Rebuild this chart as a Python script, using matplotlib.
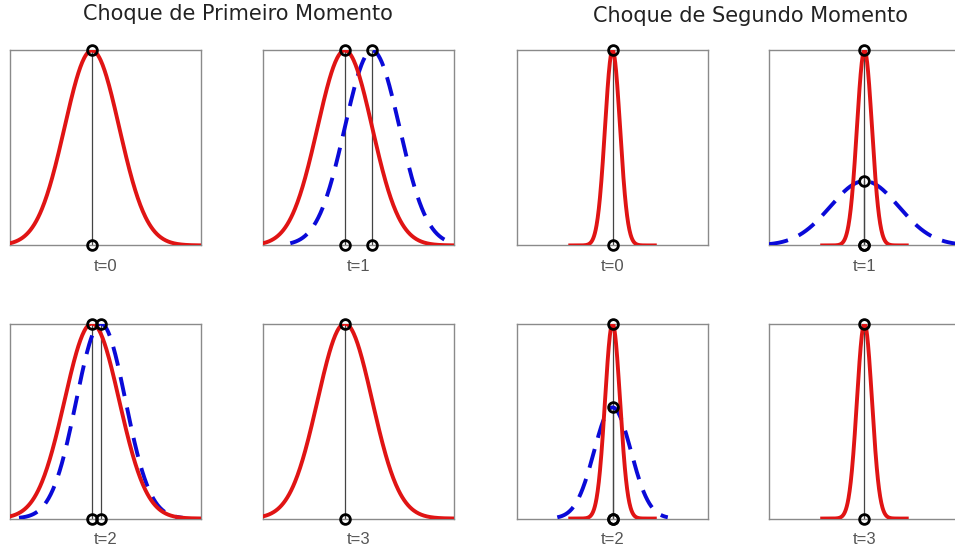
import numpy as np
import matplotlib.pyplot as plt

# group titles and period labels
titles = ['Choque de Primeiro Momento', 'Choque de Segundo Momento']
periods = ['t=0', 't=1', 't=2', 't=3']

# first moment shock (mean moves): baseline N(0, 1)
fm_xlim = [-3, 4]
fm_base_mean = 0.0
fm_base_sd = 1.0
fm_base_span = [-3, 4]
fm_shock_mean = [None, 1.0, 0.33, None]
fm_shock_sd = [None, 1.0, 0.9, None]
fm_shock_peak = [None, 1.0, 1.0, None]
fm_shock_span = [None, [-2.0, 4.0], [-2.67, 3.33], None]

# second moment shock (variance moves): baseline narrow density
sm_xlim = [-7, 7]
sm_base_mean = 0.0
sm_base_sd = 0.55
sm_base_span = [-3.1, 3.1]
sm_shock_mean = [None, 0.0, 0.0, None]
sm_shock_sd = [None, 2.5, 1.35, None]
sm_shock_peak = [None, 0.33, 0.57, None]
sm_shock_span = [None, [-7.0, 7.0], [-4.05, 4.05], None]

RED = '#e01414'
BLUE = '#0a0ad8'


def bell(span, mean, sd, peak):
    x = np.linspace(span[0], span[1], 300)
    return x, peak * np.exp(-0.5 * ((x - mean) / sd) ** 2)


def mark(ax, mean, peak):
    ax.plot([mean, mean], [0, peak], color='#444444', lw=0.9, zorder=2)
    ax.plot([mean, mean], [0, peak], 'o', ms=7, mfc='none', mec='black',
            mew=2, clip_on=False, zorder=5)


fig = plt.figure(figsize=(9.55, 5.54), dpi=100)

lefts = [[0.0105, 0.2754], [0.5414, 0.8052]]
bottoms = [0.557, 0.064]
w, h = 0.2, 0.352

groups = [
    (fm_xlim, fm_base_mean, fm_base_sd, fm_base_span,
     fm_shock_mean, fm_shock_sd, fm_shock_peak, fm_shock_span),
    (sm_xlim, sm_base_mean, sm_base_sd, sm_base_span,
     sm_shock_mean, sm_shock_sd, sm_shock_peak, sm_shock_span),
]

for g, (xlim, bm, bsd, bspan, smean, ssd, speak, sspan) in enumerate(groups):
    for i in range(4):
        row, col = divmod(i, 2)
        ax = fig.add_axes([lefts[g][col], bottoms[row], w, h])
        ax.set_xlim(xlim)
        ax.set_ylim(0, 1)
        ax.set_xticks([])
        ax.set_yticks([])
        for s in ax.spines.values():
            s.set_color('#8a8a8a')
            s.set_linewidth(1.0)

        if smean[i] is not None:
            x, y = bell(sspan[i], smean[i], ssd[i], speak[i])
            ax.plot(x, y, color=BLUE, lw=2.8, dashes=(5, 3), zorder=3)
        x, y = bell(bspan, bm, bsd, 1.0)
        ax.plot(x, y, color=RED, lw=2.8, zorder=4)

        mark(ax, bm, 1.0)
        if smean[i] is not None:
            mark(ax, smean[i], speak[i])

        ax.text(0.5, -0.11, periods[i], transform=ax.transAxes,
                ha='center', va='center', fontsize=12, color='#555555',
                family='Liberation Sans')

fig.text(238 / 955, 1 - 14 / 554, titles[0], ha='center', va='center',
         fontsize=15, color='#222222')
fig.text(750 / 955, 1 - 16 / 554, titles[1], ha='center', va='center',
         fontsize=15, color='#222222')

fig.savefig('out.png', dpi=100)
